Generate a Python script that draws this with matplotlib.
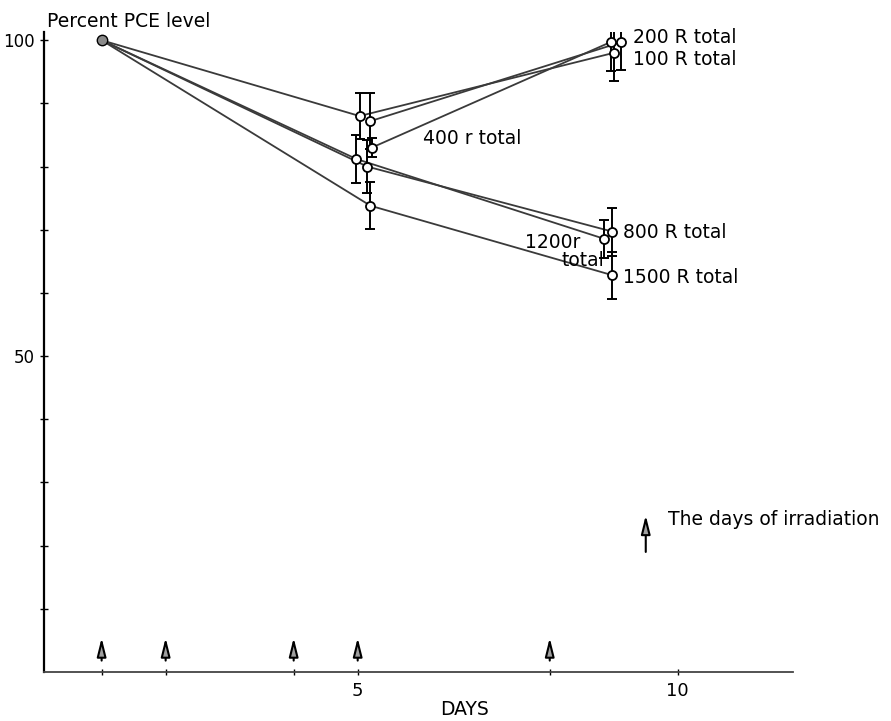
import numpy as np
import matplotlib
matplotlib.use("Agg")
import matplotlib.pyplot as plt

nan = np.nan

# PCE level (percent of day-1 level) for each total dose, days 1, 5 and 9
series_labels = ["100 R total", "200 R total", "400 r total",
                 "800 R total", "1200r\ntotal", "1500 R total"]
days = [
    [1.0, 5.03, 9.00],
    [nan, 5.20, 9.12],
    [nan, 5.22, 8.95],
    [1.0, 5.15, 8.98],
    [1.0, 4.98, 8.84],
    [1.0, 5.20, 8.98],
]
pce = [
    [100.0, 88.0, 98.0],
    [nan, 87.2, 99.7],
    [nan, 83.0, 99.7],
    [100.0, 80.0, 69.7],
    [100.0, 81.2, 68.6],
    [100.0, 73.8, 62.8],
]
pce_err = [
    [0.0, 3.6, 4.4],
    [0.0, 4.4, 4.4],
    [0.0, 1.5, 4.5],
    [0.0, 4.2, 3.8],
    [0.0, 3.8, 3.0],
    [0.0, 3.7, 3.7],
]
irradiation_days = [1, 2, 4, 5, 8]

# label placement (data coords)
label_pos = [
    (9.30, 97.0), (9.30, 100.5), (6.02, 84.5),
    (9.14, 69.6), (7.61, 68.0), (9.14, 62.5),
]

fig = plt.figure(figsize=(8.91, 7.21), dpi=100)
ax = fig.add_axes([0.0494, 0.0680, 0.8406, 0.8876])
ax.set_xlim(0.1, 11.8)
ax.set_ylim(0, 101.3)

line_col = "#3a3a3a"
for x, y, e in zip(days, pce, pce_err):
    x = np.array(x); y = np.array(y); e = np.array(e)
    ax.plot(x, y, color=line_col, lw=1.3, zorder=2)
    m = e > 0
    ax.errorbar(x[m], y[m], yerr=e[m], fmt="none", ecolor="black",
                elinewidth=1.4, capsize=3.5, capthick=1.4, zorder=3)
    ax.plot(x[m], y[m], "o", ms=6.5, mfc="white", mec="black", mew=1.3, zorder=4)

# shared starting point at day 1
ax.plot([1.0], [100.0], "o", ms=7.5, mfc="#8a8a8a", mec="black", mew=1.0, zorder=5)

font = dict(family="DejaVu Sans", size=13.5)
for lab, (tx, ty) in zip(series_labels, label_pos):
    if "\n" in lab:
        a, b = lab.split("\n")
        ax.text(tx, ty, a, ha="left", va="center", **font)
        ax.text(tx + 0.58, ty - 2.9, b, ha="left", va="center", **font)
    else:
        ax.text(tx, ty, lab, ha="left", va="center", **font)

# irradiation day arrows
arrow_kw = dict(arrowstyle="-|>,head_length=0.8,head_width=0.2",
                mutation_scale=14, fc="#a0a0a0", ec="black", lw=1.5,
                shrinkA=0, shrinkB=0)
for d in irradiation_days:
    ax.annotate("", xy=(d, 5.4), xytext=(d, 1.8), arrowprops=arrow_kw)
ax.annotate("", xy=(9.5, 24.8), xytext=(9.5, 19.0), arrowprops=arrow_kw)
ax.text(9.84, 24.2, "The days of irradiation", ha="left", va="center",
        clip_on=False, **font)

ax.text(0.14, 102.9, "Percent PCE level", ha="left", va="center",
        clip_on=False, **font)
ax.text(6.67, -6.0, "DAYS", ha="center", va="center", clip_on=False, **font)

# axes styling
for s in ("top", "right"):
    ax.spines[s].set_visible(False)
ax.spines["left"].set_linewidth(1.6)
ax.spines["bottom"].set_linewidth(1.3)
ax.spines["bottom"].set_color("#444444")

ax.set_xticks([5, 10])
ax.set_xticklabels(["5", "10"], family="DejaVu Sans", size=13)
ax.set_xticks(irradiation_days, minor=True)
ax.set_yticks([50, 100])
ax.set_yticklabels(["50", "100"], family="DejaVu Sans", size=12)
ax.set_yticks([10, 20, 30, 40, 60, 70, 80, 90], minor=True)
ax.tick_params(axis="x", which="both", direction="inout", length=5, width=1.0, pad=5)
ax.tick_params(axis="y", which="both", direction="inout", length=6, width=1.0, pad=4)

fig.savefig("out.png", dpi=100)
